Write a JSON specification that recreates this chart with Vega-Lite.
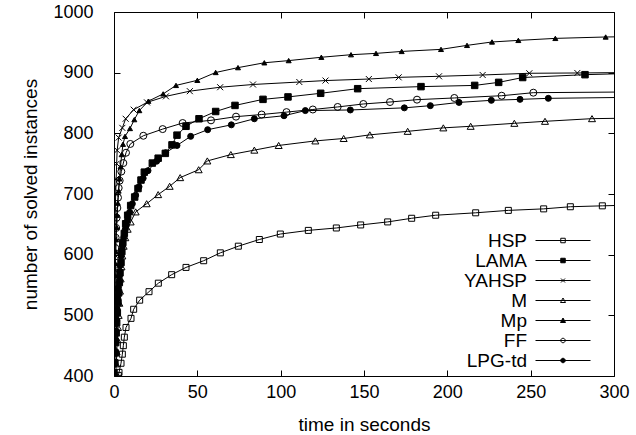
{
  "$schema": "https://vega.github.io/schema/vega-lite/v6.json",
  "width": 500,
  "height": 364,
  "autosize": "none",
  "padding": {"left": 114, "top": 12, "right": 22, "bottom": 59},
  "background": "white",
  "config": {
    "font": "Liberation Sans",
    "view": {"stroke": "black", "strokeWidth": 1},
    "axis": {
      "labelFont": "Liberation Sans", "labelFontSize": 18, "labelColor": "black",
      "titleFont": "Liberation Sans", "titleFontSize": 19, "titleFontWeight": "normal", "titleColor": "black",
      "tickColor": "black", "tickWidth": 1, "tickSize": -6, "domain": false, "grid": false,
      "labelFlush": false, "labelOverlap": false, "format": "d"
    }
  },
  "datasets": {
    "solved": [
      {"s":"HSP","t":2.6,"n":401},{"s":"HSP","t":3,"n":406},{"s":"HSP","t":4.2,"n":421},{"s":"HSP","t":5,"n":436},{"s":"HSP","t":5.6,"n":450},{"s":"HSP","t":6.2,"n":464},{"s":"HSP","t":7.2,"n":480},{"s":"HSP","t":10.2,"n":495},{"s":"HSP","t":11.8,"n":510},{"s":"HSP","t":15.4,"n":525},{"s":"HSP","t":21,"n":539},{"s":"HSP","t":26.6,"n":553},{"s":"HSP","t":34.6,"n":567},{"s":"HSP","t":43.2,"n":579},{"s":"HSP","t":53.8,"n":590},{"s":"HSP","t":63.8,"n":603},{"s":"HSP","t":74.6,"n":614},{"s":"HSP","t":87.2,"n":625},{"s":"HSP","t":99.8,"n":634},{"s":"HSP","t":116.6,"n":640},{"s":"HSP","t":133.4,"n":644},{"s":"HSP","t":148,"n":649},{"s":"HSP","t":164.2,"n":654},{"s":"HSP","t":178.6,"n":660},{"s":"HSP","t":193,"n":665},{"s":"HSP","t":217,"n":669},{"s":"HSP","t":236.6,"n":673},{"s":"HSP","t":257.8,"n":675.5},{"s":"HSP","t":273.8,"n":679},{"s":"HSP","t":293,"n":680.5},{"s":"HSP","t":300,"n":681},
      {"s":"LAMA","t":0,"n":405},{"s":"LAMA","t":0.4,"n":422},{"s":"LAMA","t":0.7,"n":438},{"s":"LAMA","t":1,"n":455},{"s":"LAMA","t":1.3,"n":471},{"s":"LAMA","t":1.6,"n":488},{"s":"LAMA","t":2,"n":504},{"s":"LAMA","t":2.4,"n":521},{"s":"LAMA","t":2.8,"n":537},{"s":"LAMA","t":3.2,"n":554},{"s":"LAMA","t":3.6,"n":570},{"s":"LAMA","t":4.2,"n":587},{"s":"LAMA","t":4.7,"n":605},{"s":"LAMA","t":5.3,"n":620},{"s":"LAMA","t":6.2,"n":635},{"s":"LAMA","t":7,"n":651},{"s":"LAMA","t":8.2,"n":665},{"s":"LAMA","t":10,"n":681},{"s":"LAMA","t":12.4,"n":695},{"s":"LAMA","t":14.4,"n":709},{"s":"LAMA","t":16.2,"n":723},{"s":"LAMA","t":18.2,"n":736},{"s":"LAMA","t":23,"n":751},{"s":"LAMA","t":26.5,"n":759},{"s":"LAMA","t":30.8,"n":767},{"s":"LAMA","t":34.8,"n":781},{"s":"LAMA","t":37.8,"n":797},{"s":"LAMA","t":43.2,"n":811.6},{"s":"LAMA","t":51,"n":824},{"s":"LAMA","t":61,"n":836},{"s":"LAMA","t":72.6,"n":846},{"s":"LAMA","t":89.4,"n":856},{"s":"LAMA","t":104.4,"n":860},{"s":"LAMA","t":124,"n":866},{"s":"LAMA","t":146.2,"n":873.6},{"s":"LAMA","t":184.2,"n":877},{"s":"LAMA","t":216.4,"n":879},{"s":"LAMA","t":230.8,"n":884},{"s":"LAMA","t":245.2,"n":892},{"s":"LAMA","t":282.6,"n":896.7},{"s":"LAMA","t":300,"n":898},
      {"s":"YAHSP","t":0,"n":405},{"s":"YAHSP","t":0.05,"n":425},{"s":"YAHSP","t":0.1,"n":450},{"s":"YAHSP","t":0.15,"n":475},{"s":"YAHSP","t":0.2,"n":500},{"s":"YAHSP","t":0.25,"n":525},{"s":"YAHSP","t":0.3,"n":550},{"s":"YAHSP","t":0.35,"n":575},{"s":"YAHSP","t":0.4,"n":600},{"s":"YAHSP","t":0.5,"n":625},{"s":"YAHSP","t":0.6,"n":650},{"s":"YAHSP","t":0.8,"n":675},{"s":"YAHSP","t":1,"n":700},{"s":"YAHSP","t":1.3,"n":725},{"s":"YAHSP","t":1.6,"n":750},{"s":"YAHSP","t":1.9,"n":772},{"s":"YAHSP","t":2.8,"n":793},{"s":"YAHSP","t":5,"n":809},{"s":"YAHSP","t":7,"n":824},{"s":"YAHSP","t":11.8,"n":839},{"s":"YAHSP","t":19.8,"n":851},{"s":"YAHSP","t":31.2,"n":861},{"s":"YAHSP","t":45.5,"n":869.5},{"s":"YAHSP","t":63.7,"n":876},{"s":"YAHSP","t":83.4,"n":880.5},{"s":"YAHSP","t":111.2,"n":884.6},{"s":"YAHSP","t":126.9,"n":887},{"s":"YAHSP","t":152.9,"n":889.5},{"s":"YAHSP","t":170.8,"n":892.3},{"s":"YAHSP","t":195,"n":894},{"s":"YAHSP","t":221.2,"n":896.2},{"s":"YAHSP","t":249.2,"n":899},{"s":"YAHSP","t":278,"n":899.5},{"s":"YAHSP","t":300,"n":900},
      {"s":"M","t":1,"n":400},{"s":"M","t":1.3,"n":420},{"s":"M","t":1.6,"n":440},{"s":"M","t":2,"n":460},{"s":"M","t":2.4,"n":480},{"s":"M","t":2.8,"n":500},{"s":"M","t":3.2,"n":520},{"s":"M","t":3.6,"n":540},{"s":"M","t":4,"n":560},{"s":"M","t":4.5,"n":580},{"s":"M","t":5,"n":598},{"s":"M","t":5.8,"n":614},{"s":"M","t":6.8,"n":628},{"s":"M","t":8.2,"n":642},{"s":"M","t":10,"n":654},{"s":"M","t":13,"n":670.5},{"s":"M","t":19.6,"n":684},{"s":"M","t":26.5,"n":699},{"s":"M","t":33.4,"n":712.7},{"s":"M","t":39.7,"n":727},{"s":"M","t":50.8,"n":740},{"s":"M","t":56,"n":754.5},{"s":"M","t":70.1,"n":765},{"s":"M","t":84.2,"n":772.3},{"s":"M","t":98.8,"n":780},{"s":"M","t":120.8,"n":787.5},{"s":"M","t":137.8,"n":791.5},{"s":"M","t":153.5,"n":797.5},{"s":"M","t":176.2,"n":803.3},{"s":"M","t":197.6,"n":809},{"s":"M","t":214,"n":811.6},{"s":"M","t":240.2,"n":816.5},{"s":"M","t":258.6,"n":819.8},{"s":"M","t":286.8,"n":824.2},{"s":"M","t":300,"n":824.7},
      {"s":"Mp","t":0.1,"n":405},{"s":"Mp","t":0.15,"n":425},{"s":"Mp","t":0.2,"n":445},{"s":"Mp","t":0.25,"n":465},{"s":"Mp","t":0.3,"n":485},{"s":"Mp","t":0.4,"n":505},{"s":"Mp","t":0.5,"n":525},{"s":"Mp","t":0.6,"n":545},{"s":"Mp","t":0.75,"n":565},{"s":"Mp","t":0.9,"n":585},{"s":"Mp","t":1.1,"n":605},{"s":"Mp","t":1.3,"n":625},{"s":"Mp","t":1.6,"n":645},{"s":"Mp","t":1.9,"n":665},{"s":"Mp","t":2.3,"n":685},{"s":"Mp","t":2.8,"n":705},{"s":"Mp","t":3.3,"n":725},{"s":"Mp","t":3.9,"n":745},{"s":"Mp","t":4.6,"n":765},{"s":"Mp","t":5.4,"n":782},{"s":"Mp","t":6.6,"n":795},{"s":"Mp","t":9.6,"n":808},{"s":"Mp","t":12.2,"n":822.6},{"s":"Mp","t":15.2,"n":837.6},{"s":"Mp","t":20.6,"n":853},{"s":"Mp","t":29.5,"n":865},{"s":"Mp","t":37.2,"n":879},{"s":"Mp","t":50,"n":887.4},{"s":"Mp","t":61,"n":900.3},{"s":"Mp","t":74.4,"n":908.3},{"s":"Mp","t":90.2,"n":916.3},{"s":"Mp","t":104.8,"n":919.9},{"s":"Mp","t":124.4,"n":925.4},{"s":"Mp","t":142.2,"n":929.6},{"s":"Mp","t":157.2,"n":931.8},{"s":"Mp","t":172.6,"n":935},{"s":"Mp","t":196.2,"n":938.4},{"s":"Mp","t":211.8,"n":945},{"s":"Mp","t":226.8,"n":950.6},{"s":"Mp","t":242.6,"n":953.2},{"s":"Mp","t":264.8,"n":956.5},{"s":"Mp","t":295,"n":958.8},{"s":"Mp","t":300,"n":959},
      {"s":"FF","t":0,"n":402},{"s":"FF","t":0.1,"n":420},{"s":"FF","t":0.15,"n":440},{"s":"FF","t":0.2,"n":460},{"s":"FF","t":0.25,"n":480},{"s":"FF","t":0.3,"n":500},{"s":"FF","t":0.35,"n":520},{"s":"FF","t":0.4,"n":540},{"s":"FF","t":0.5,"n":560},{"s":"FF","t":0.6,"n":580},{"s":"FF","t":0.7,"n":597},{"s":"FF","t":0.8,"n":611},{"s":"FF","t":1,"n":628},{"s":"FF","t":1.3,"n":644},{"s":"FF","t":1.6,"n":661},{"s":"FF","t":2,"n":677},{"s":"FF","t":2.4,"n":694},{"s":"FF","t":2.8,"n":710},{"s":"FF","t":3.4,"n":722},{"s":"FF","t":4.4,"n":737},{"s":"FF","t":5.6,"n":751},{"s":"FF","t":7.2,"n":768},{"s":"FF","t":9.8,"n":782.5},{"s":"FF","t":17.6,"n":796},{"s":"FF","t":29.2,"n":807},{"s":"FF","t":41.2,"n":817},{"s":"FF","t":58.2,"n":821.4},{"s":"FF","t":73.2,"n":827.5},{"s":"FF","t":88.6,"n":831},{"s":"FF","t":103.5,"n":835},{"s":"FF","t":119.3,"n":839.3},{"s":"FF","t":134.2,"n":843.5},{"s":"FF","t":149.6,"n":848.4},{"s":"FF","t":165.6,"n":851.6},{"s":"FF","t":181.8,"n":855.5},{"s":"FF","t":204.2,"n":858.3},{"s":"FF","t":232.6,"n":862},{"s":"FF","t":251.6,"n":867},{"s":"FF","t":300,"n":868},
      {"s":"LPG-td","t":0,"n":402},{"s":"LPG-td","t":0.3,"n":420},{"s":"LPG-td","t":0.6,"n":438},{"s":"LPG-td","t":0.9,"n":456},{"s":"LPG-td","t":1.2,"n":474},{"s":"LPG-td","t":1.5,"n":492},{"s":"LPG-td","t":1.9,"n":510},{"s":"LPG-td","t":2.3,"n":528},{"s":"LPG-td","t":2.7,"n":546},{"s":"LPG-td","t":3.2,"n":564},{"s":"LPG-td","t":3.7,"n":582},{"s":"LPG-td","t":4.3,"n":598},{"s":"LPG-td","t":5,"n":614},{"s":"LPG-td","t":5.8,"n":628},{"s":"LPG-td","t":6.8,"n":642},{"s":"LPG-td","t":8,"n":656},{"s":"LPG-td","t":9.4,"n":670},{"s":"LPG-td","t":11,"n":684},{"s":"LPG-td","t":13,"n":698},{"s":"LPG-td","t":15,"n":712},{"s":"LPG-td","t":17.5,"n":726},{"s":"LPG-td","t":20.4,"n":738.5},{"s":"LPG-td","t":25.6,"n":754},{"s":"LPG-td","t":31,"n":768},{"s":"LPG-td","t":37.8,"n":780},{"s":"LPG-td","t":46,"n":795},{"s":"LPG-td","t":56.2,"n":806},{"s":"LPG-td","t":70.4,"n":814},{"s":"LPG-td","t":84.2,"n":824},{"s":"LPG-td","t":102,"n":829},{"s":"LPG-td","t":114.8,"n":837.5},{"s":"LPG-td","t":141.8,"n":838.5},{"s":"LPG-td","t":174.2,"n":842},{"s":"LPG-td","t":189.8,"n":845.6},{"s":"LPG-td","t":207,"n":851},{"s":"LPG-td","t":226.4,"n":854.4},{"s":"LPG-td","t":243.6,"n":856},{"s":"LPG-td","t":260.6,"n":857.7},{"s":"LPG-td","t":300,"n":859}
    ]
  },
  "data": {"name": "solved"},
  "layer": [
    {
      "mark": {"type": "line", "stroke": "black", "strokeWidth": 1, "clip": true},
      "encoding": {
        "x": {"field": "t", "type": "quantitative", "scale": {"domain": [0, 300], "nice": false, "zero": false},
              "axis": {"orient": "bottom", "values": [0, 50, 100, 150, 200, 250, 300], "title": "time in seconds", "labelPadding": 13, "titlePadding": 14}},
        "y": {"field": "n", "type": "quantitative", "scale": {"domain": [400, 1000], "nice": false, "zero": false},
              "axis": {"orient": "left", "values": [400, 500, 600, 700, 800, 900, 1000], "title": "number of solved instances", "labelPadding": 27, "titlePadding": 12}},
        "detail": {"field": "s", "type": "nominal"}
      }
    },
    {
      "transform": [{"filter": "datum.t < 300"}],
      "mark": {"type": "point", "stroke": "black", "strokeWidth": 1, "opacity": 1, "clip": true},
      "encoding": {
        "x": {"field": "t", "type": "quantitative",
              "axis": {"orient": "top", "values": [0, 50, 100, 150, 200, 250, 300], "labels": false, "title": null}},
        "y": {"field": "n", "type": "quantitative",
              "axis": {"orient": "right", "values": [400, 500, 600, 700, 800, 900, 1000], "labels": false, "title": null}},
        "shape": {"field": "s", "type": "nominal", "legend": null,
                  "scale": {"domain": ["HSP", "LAMA", "YAHSP", "M", "Mp", "FF", "LPG-td"],
                            "range": ["square", "square", "M-1,-1L1,1M-1,1L1,-1", "triangle-up", "triangle-up", "circle", "circle"]}},
        "fill": {"field": "s", "type": "nominal", "legend": null,
                 "scale": {"domain": ["HSP", "LAMA", "YAHSP", "M", "Mp", "FF", "LPG-td"],
                           "range": ["transparent", "black", "transparent", "transparent", "black", "transparent", "black"]}},
        "size": {"field": "s", "type": "nominal", "legend": null,
                 "scale": {"type": "ordinal", "domain": ["HSP", "LAMA", "YAHSP", "M", "Mp", "FF", "LPG-td"],
                           "range": [36, 42, 36, 49, 25, 49, 36]}}
      }
    },
    {
      "transform": [{"filter": "false"}],
      "mark": {"type": "point", "stroke": "black", "strokeWidth": 1, "opacity": 1},
      "encoding": {
        "shape": {"field": "s", "type": "nominal",
                  "scale": {"domain": ["HSP", "LAMA", "YAHSP", "M", "Mp", "FF", "LPG-td"],
                            "range": [
                              "M-5.5,0H5.5M-0.45,-0.45H0.45V0.45H-0.45Z",
                              "M-5.5,0H5.5M-0.45,-0.45H0.45V0.45H-0.45Z",
                              "M-5.5,0H5.5M-0.4,-0.4L0.4,0.4M-0.4,0.4L0.4,-0.4",
                              "M-5.5,0H5.5M0,-0.5L0.5,0.4H-0.5Z",
                              "M-5.5,0H5.5M0,-0.5L0.5,0.4H-0.5Z",
                              "M-5.5,0H5.5M-0.45,0A0.45,0.45 0 1,0 0.45,0A0.45,0.45 0 1,0 -0.45,0Z",
                              "M-5.5,0H5.5M-0.45,0A0.45,0.45 0 1,0 0.45,0A0.45,0.45 0 1,0 -0.45,0Z"]},
                  "legend": {"title": null, "orient": "none", "legendX": 439.5, "legendY": 219, "padding": 0,
                             "symbolSize": 100, "symbolStrokeWidth": 1, "symbolOpacity": 1, "symbolFillColor": "transparent", "symbolStrokeColor": "black",
                             "labelAlign": "right", "labelOffset": -45.5, "labelFont": "Liberation Sans", "labelFontSize": 19, "labelColor": "black", "rowPadding": 0, "labelLimit": 0}},
        "fill": {"field": "s", "type": "nominal",
                 "scale": {"domain": ["HSP", "LAMA", "YAHSP", "M", "Mp", "FF", "LPG-td"],
                           "range": ["transparent", "black", "transparent", "transparent", "black", "transparent", "black"]},
                 "legend": {"title": null, "orient": "none", "legendX": 439.5, "legendY": 219, "padding": 0,
                            "symbolSize": 100, "symbolStrokeWidth": 1, "symbolOpacity": 1, "symbolFillColor": "transparent", "symbolStrokeColor": "black",
                            "labelAlign": "right", "labelOffset": -45.5, "labelFont": "Liberation Sans", "labelFontSize": 19, "labelColor": "black", "rowPadding": 0, "labelLimit": 0}}
      }
    }
  ],
  "resolve": {"scale": {"shape": "independent", "fill": "independent", "size": "independent"}}
}
